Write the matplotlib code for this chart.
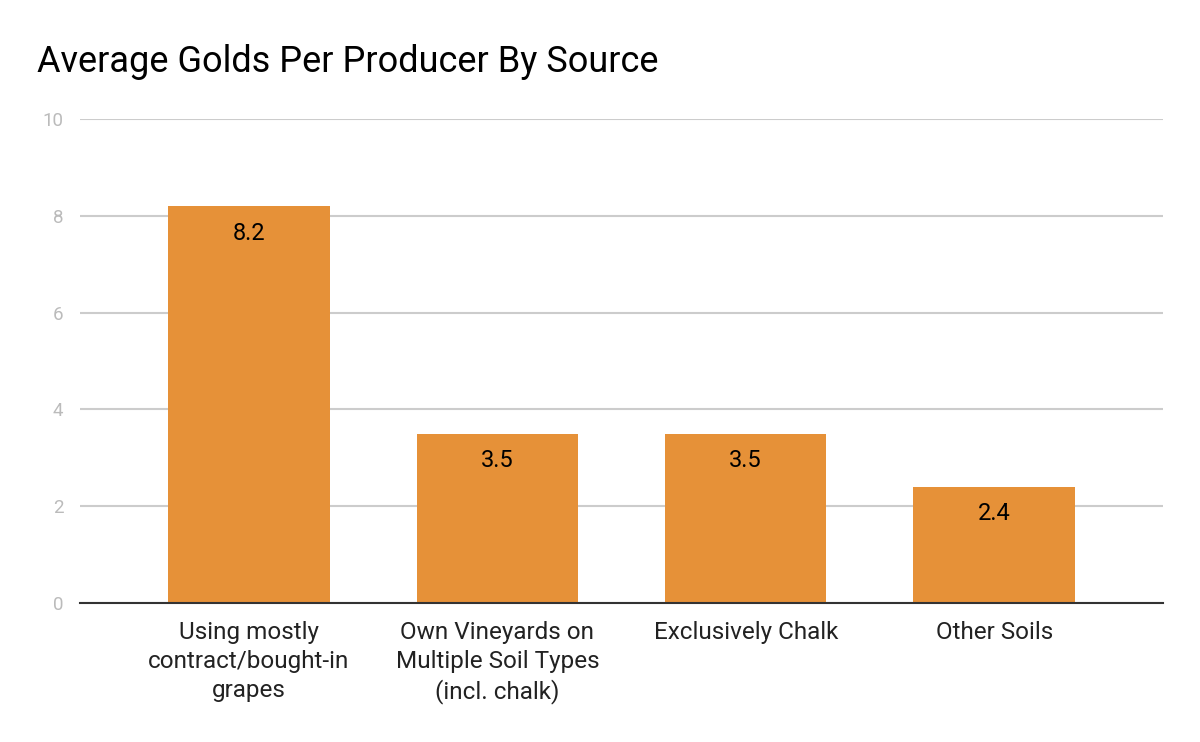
import matplotlib.pyplot as plt

categories = ["Using mostly\ncontract/bought-in\ngrapes",
              "Own Vineyards on\nMultiple Soil Types\n(incl. chalk)",
              "Exclusively Chalk",
              "Other Soils"]
values = [8.2, 3.5, 3.5, 2.4]
labels = ["8.2", "3.5", "3.5", "2.4"]
yticks = [0, 2, 4, 6, 8, 10]

plt.rcParams['font.family'] = ['Roboto', 'DejaVu Sans']

fig = plt.figure(figsize=(12, 7.42), dpi=100)
ax = fig.add_axes([0.0667, 0.1873, 0.9025, 0.6523])

bar_color = "#E69138"
x = list(range(len(values)))
ax.bar(x, values, width=0.65, color=bar_color, zorder=3)

# value labels inside the bar top
for xi, v, lab in zip(x, values, labels):
    ax.annotate(lab, (xi, v), xytext=(0, -27), textcoords="offset pixels",
                ha="center", va="center", fontsize=17, color="#000000", zorder=4)

ax.set_xlim(-0.68, 3.68)
ax.set_ylim(0, 10)
ax.set_yticks(yticks)
ax.set_yticklabels([str(t) for t in yticks])
ax.set_xticks(x)
ax.set_xticklabels(categories, fontsize=17.5, color="#222222", linespacing=1.33)
ax.tick_params(axis="y", length=0, pad=12, labelsize=13.5, labelcolor="#BBBBBB")
ax.tick_params(axis="x", length=0, pad=13)
ax.grid(axis="y", color="#CCCCCC", linewidth=1.5, zorder=0)
for s in ["top", "right", "left"]:
    ax.spines[s].set_visible(False)
ax.spines["bottom"].set_color("#333333")
ax.spines["bottom"].set_linewidth(1.5)
ax.spines["bottom"].set_zorder(5)

fig.text(0.031, 0.917, "Average Golds Per Producer By Source", fontsize=26,
         ha="left", va="center", color="#000000")

fig.savefig("out.png", dpi=100)
